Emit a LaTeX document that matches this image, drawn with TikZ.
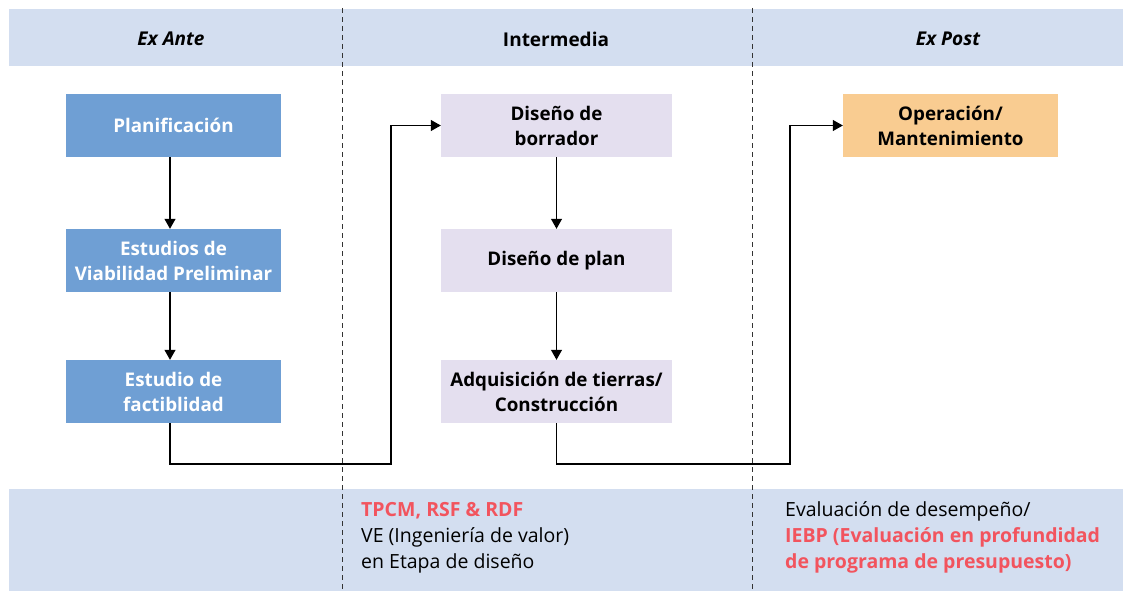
\documentclass[tikz,border=0pt]{standalone}
\usepackage{fontspec}
\setmainfont{Open Sans}
\usetikzlibrary{arrows.meta}
\definecolor{bandc}{HTML}{D3DEF0}
\definecolor{bluec}{HTML}{6F9FD4}
\definecolor{purpc}{HTML}{E4DFEF}
\definecolor{orangec}{HTML}{F9CC91}
\definecolor{redc}{HTML}{F2545E}
\tikzset{
  stagebox/.style={minimum width=215pt, minimum height=63pt, inner sep=0pt, align=center, font=\fontsize{18.8}{25}\selectfont\bfseries},
  bluebox/.style={stagebox, fill=bluec, text=white},
  purpbox/.style={stagebox, fill=purpc, minimum width=231pt, text=black},
  orangebox/.style={stagebox, fill=orangec, text=black},
  flow/.style={draw=black, line width=1.1pt, -{Triangle[length=10pt,width=11pt]}},
  divider/.style={draw=black!80, line width=1pt, dash pattern=on 5pt off 4pt},
  header/.style={font=\fontsize{19}{22}\selectfont\bfseries, text=black},
  note/.style={font=\fontsize{19.5}{26}\selectfont, anchor=base west, inner sep=0pt},
  rednote/.style={note, text=redc, font=\fontsize{19.5}{26}\selectfont\bfseries}
}
\begin{document}
\begin{tikzpicture}[x=1pt,y=-1pt]
\useasboundingbox (0,0) rectangle (1123,591);
% bands
\fill[bandc] (9,9) rectangle (1123,66);
\fill[bandc] (9,489) rectangle (1123,591);
% dividers
\coordinate (d1t) at (342,8);
\coordinate (d1b) at (342,591);
\coordinate (d2t) at (752,8);
\coordinate (d2b) at (752,591);
\draw[divider] (d1t) -- (d1b);
\draw[divider] (d2t) -- (d2b);
% headers
\node[header] (h1) at (171,39) {\itshape Ex Ante};
\node[header] (h2) at (556,39) {Intermedia};
\node[header] (h3) at (948,39) {\itshape Ex Post};
% boxes
\node[bluebox] (b1) at (173.5,125.5) {Planificación};
\node[bluebox] (b2) at (173.5,260.5) {Estudios de\\Viabilidad Preliminar};
\node[bluebox] (b3) at (173.5,391.5) {Estudio de\\factiblidad};
\node[purpbox] (p1) at (556.5,125.5) {Diseño de\\borrador};
\node[purpbox] (p2) at (556.5,260.5) {Diseño de plan};
\node[purpbox] (p3) at (556.5,391.5) {Adquisición de tierras/\\Construcción};
\node[orangebox] (o1) at (950.5,125.5) {Operación/\\Mantenimiento};
% connectors
\coordinate (j1) at (391,464);
\coordinate (j2) at (790,464);
\draw[flow] (b1.south -| 170,0) -- (b2.north -| 170,0);
\draw[flow] (b2.south -| 170,0) -- (b3.north -| 170,0);
\draw[flow] (b3.south -| 170,0) |- (j1) |- (p1.west);
\draw[flow] (p1.south) -- (p2.north);
\draw[flow] (p2.south) -- (p3.north);
\draw[flow] (p3.south) |- (j2) |- (o1.west);
% notes
\node[rednote] (n1a) at (361,516) {TPCM, RSF \& RDF};
\node[note] (n1b) at (361,542) {VE (Ingeniería de valor)};
\node[note] (n1c) at (361,568) {en Etapa de diseño};
\node[note] (n2a) at (785,516) {Evaluación de desempeño/};
\node[rednote] (n2b) at (785,542) {IEBP (Evaluación en profundidad};
\node[rednote] (n2c) at (785,568) {de programa de presupuesto)};
\end{tikzpicture}
\end{document}
